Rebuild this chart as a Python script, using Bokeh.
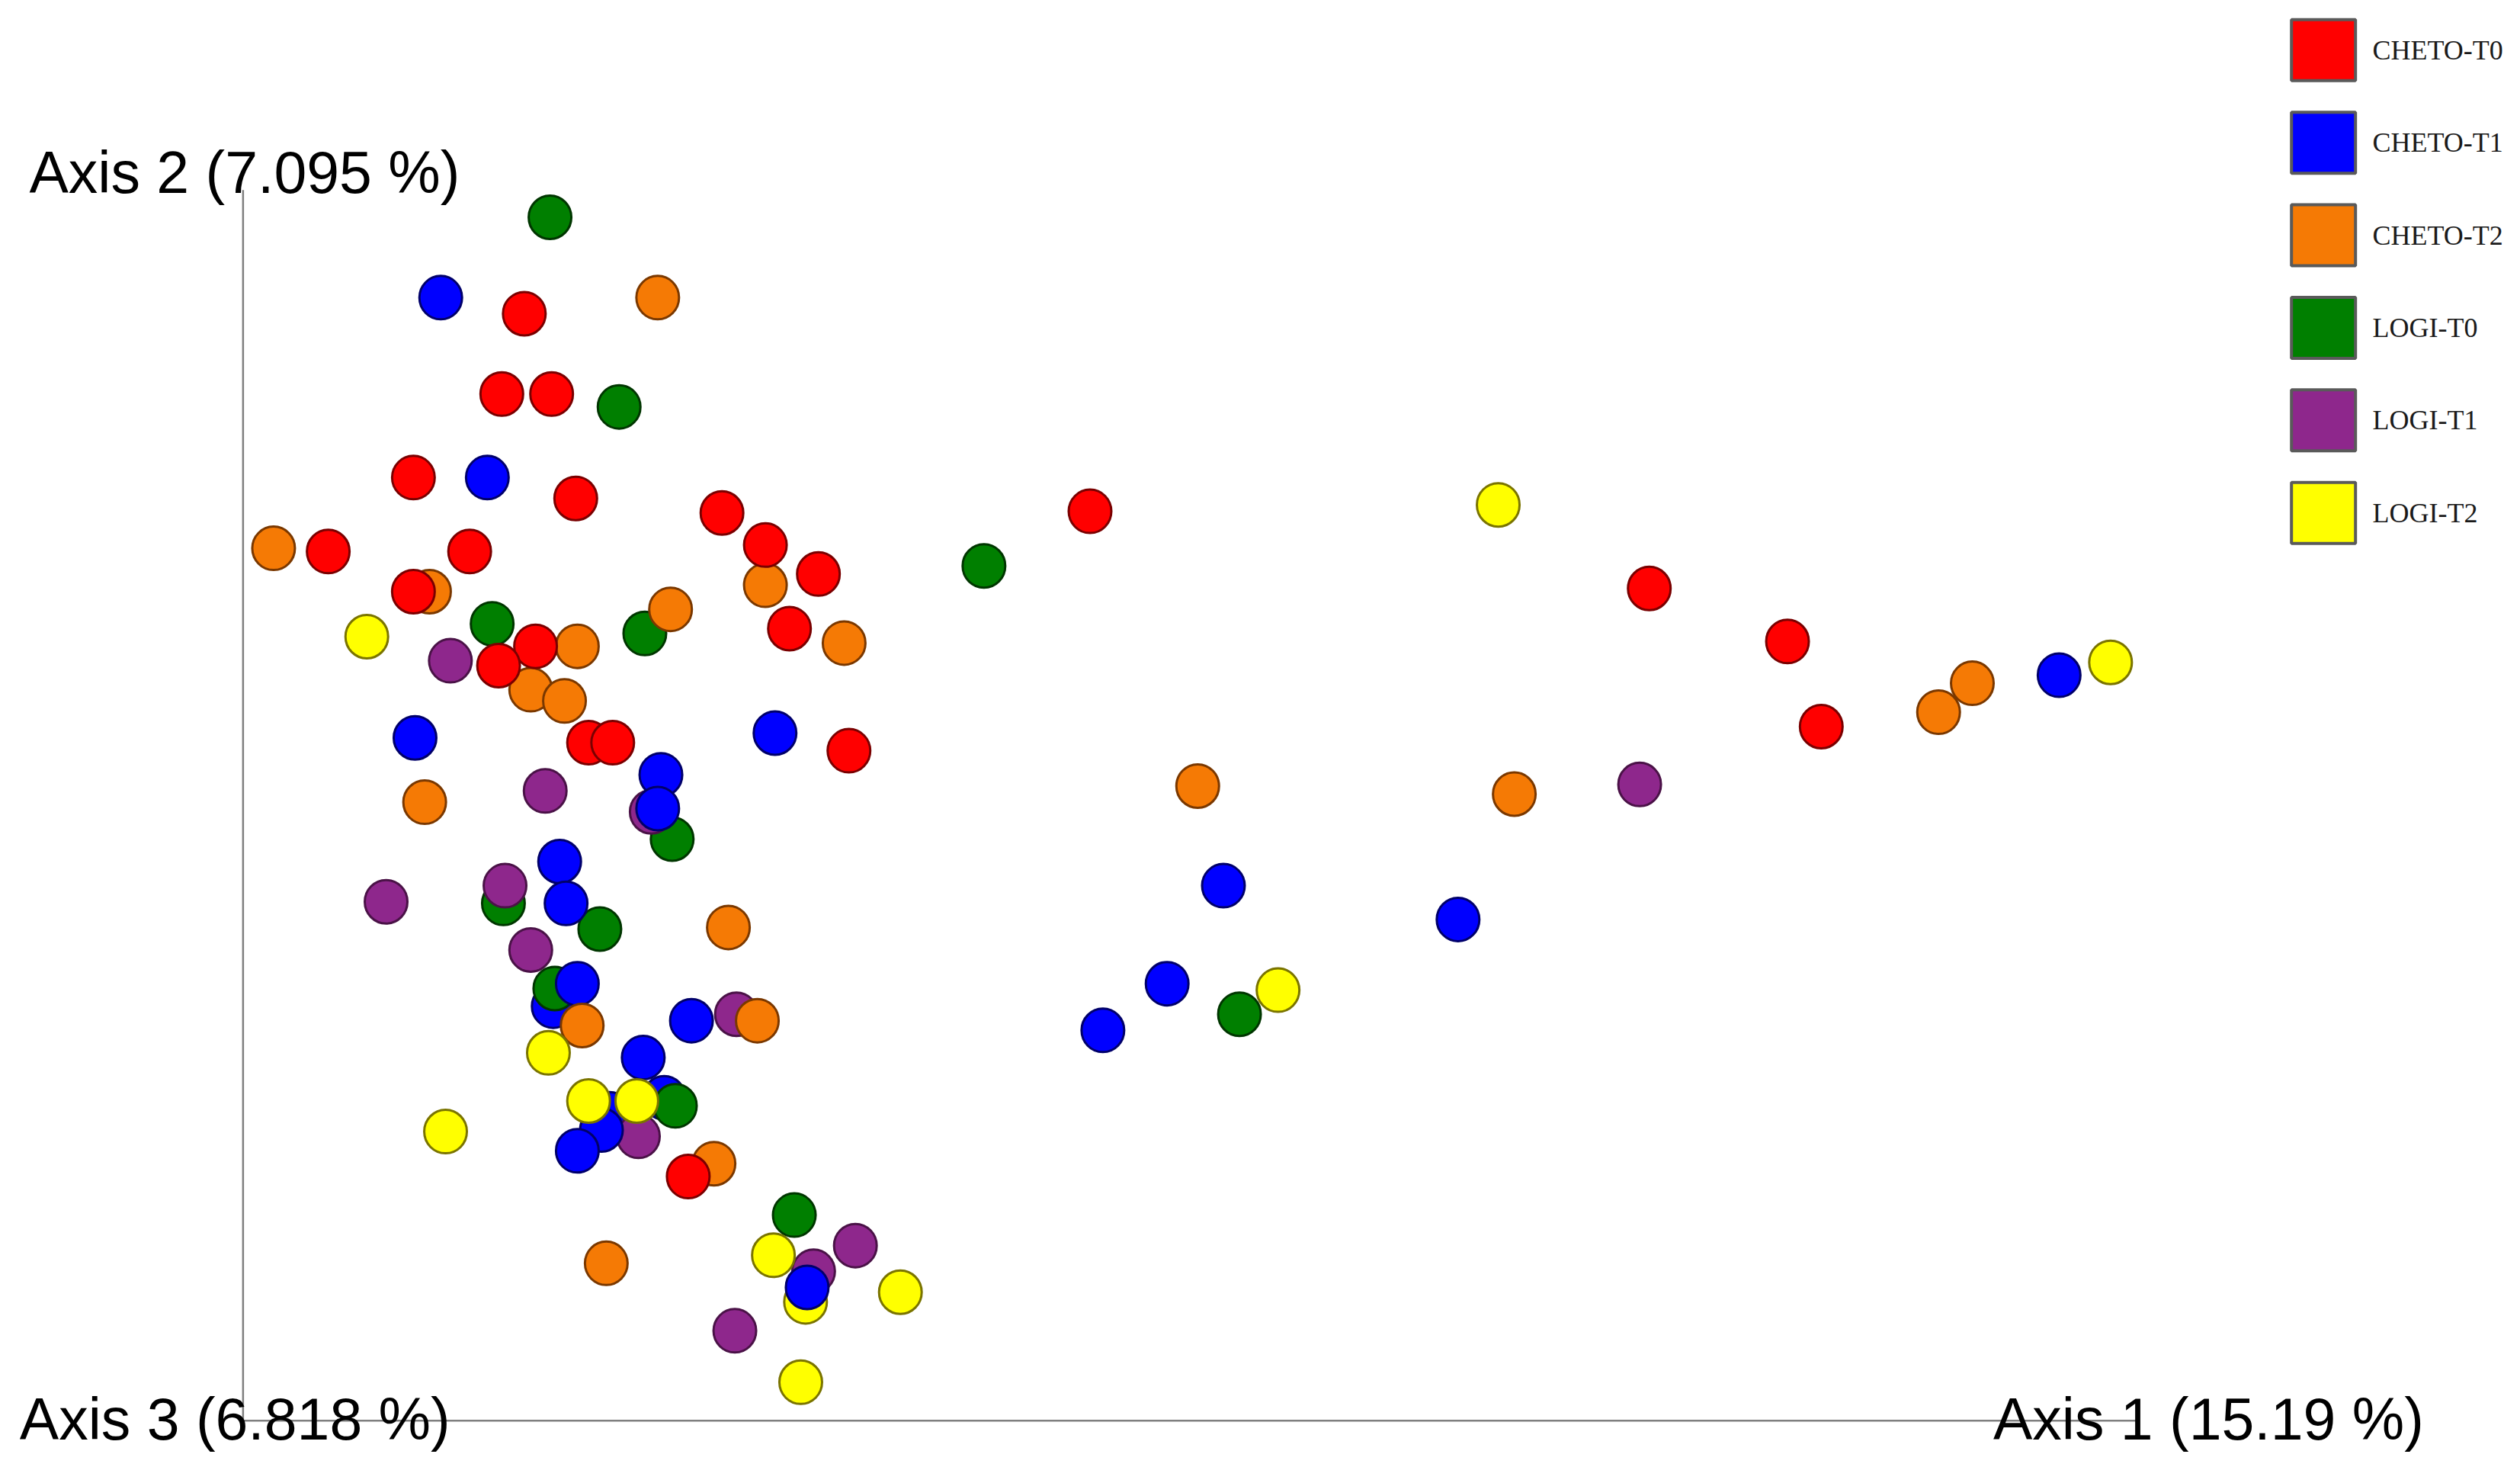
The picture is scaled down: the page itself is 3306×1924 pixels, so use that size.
from bokeh.plotting import figure
from bokeh.models import Range1d, ColumnDataSource
from bokeh.core.properties import value
from bokeh.embed import file_html
from bokeh.resources import INLINE

# ---- data (positions on the PCoA plane, arbitrary units) ----
groups = ["CHETO-T0", "CHETO-T1", "CHETO-T2", "LOGI-T0", "LOGI-T1", "LOGI-T2"]
fills = ["#ff0000", "#0000ff", "#f57a05", "#007f00", "#8e278c", "#ffff00"]
edges = ["#7a0000", "#00006a", "#7a3800", "#003600", "#4a1247", "#7a7400"]

cheto_t0_x = [326, 312, 343, 257, 358, 204, 292, 257, 449, 476, 509, 491, 333, 310, 366, 381, 528, 678, 1026, 1112, 1133, 428]
cheto_t0_y = [718, 668, 668, 616, 603, 570, 570, 545, 594, 574, 556, 522, 511, 499, 451, 451, 446, 595, 547, 514, 461, 181]

cheto_t1_x = [274, 303, 258, 482, 411, 409, 348, 352, 359, 344, 430, 400, 379, 413, 374, 359, 502, 686, 726, 761, 907, 1281]
cheto_t1_y = [728, 616, 454, 457, 431, 410, 377, 351, 301, 287, 278, 255, 220, 230, 210, 197, 112, 272, 301, 362, 341, 493]

cheto_t2_x = [409, 170, 267, 476, 417, 359, 330, 351, 525, 264, 453, 471, 362, 444, 377, 745, 942, 1206, 1227]
cheto_t2_y = [728, 572, 545, 549, 534, 511, 484, 477, 513, 414, 336, 278, 275, 189, 127, 424, 419, 470, 488]

logi_t0_x = [342, 385, 306, 401, 612, 418, 313, 373, 345, 420, 494, 771]
logi_t0_y = [778, 660, 525, 519, 561, 391, 351, 335, 298, 225, 157, 282]

logi_t1_x = [280, 339, 405, 240, 314, 330, 458, 397, 532, 506, 457, 1020]
logi_t1_y = [502, 421, 408, 352, 362, 322, 282, 206, 138, 122, 85, 425]

logi_t2_x = [228, 341, 366, 396, 277, 481, 501, 560, 498, 795, 932, 1313]
logi_t2_y = [517, 258, 228, 228, 209, 132, 103, 109, 53, 297, 599, 501]

axis_labels = ["Axis 1 (15.19 %)", "Axis 2 (7.095 %)", "Axis 3 (6.818 %)"]

series_x = [cheto_t0_x, cheto_t1_x, cheto_t2_x, logi_t0_x, logi_t1_x, logi_t2_x]
series_y = [cheto_t0_y, cheto_t1_y, cheto_t2_y, logi_t0_y, logi_t1_y, logi_t2_y]

# drawing depth (3D view): group order, with a few samples lying behind others
draw_rank = {"LOGI-T0": 0, "LOGI-T1": 1, "CHETO-T1": 2, "CHETO-T2": 3, "LOGI-T2": 4, "CHETO-T0": 5}
behind = {("CHETO-T1", 9), ("CHETO-T1", 12), ("CHETO-T1", 13), ("LOGI-T2", 6)}

pts = []
for g, fc, ec, xs, ys in zip(groups, fills, edges, series_x, series_y):
    for i, (xv, yv) in enumerate(zip(xs, ys)):
        r = -1 if (g, i) in behind else draw_rank[g]
        pts.append((r, xv, yv, fc, ec))
pts.sort(key=lambda t: t[0])
src = ColumnDataSource(dict(x=[t[1] for t in pts], y=[t[2] for t in pts],
                            fc=[t[3] for t in pts], ec=[t[4] for t in pts]))

W, H = 3290, 1908
p = figure(width=W, height=H, output_backend="svg", toolbar_location=None,
           x_range=Range1d(0, W / 2.1084), y_range=Range1d(913 - H / 2.1073, 913),
           min_border=0, outline_line_color=None)
p.axis.visible = False
p.grid.visible = False
p.background_fill_color = "white"
p.border_fill_color = "white"

# axis frame lines (origin corner of the 3D view)
ox, oy, top, right = 151, 29, 795, 1330
p.segment(x0=[ox, ox], y0=[oy, oy], x1=[ox, right], y1=[top, oy],
          line_color="#7f7f7f", line_width=2.5)

p.ellipse(x="x", y="y", width=56, height=57, width_units="screen", height_units="screen",
          fill_color="fc", line_color="ec", line_width=3, source=src)

# axis labels
p.text(x=[1240, 18, 12], y=[30, 806, 30], text=axis_labels,
       text_font=value("Liberation Sans"), text_font_size="77px",
       text_color="#000000", text_align="left", text_baseline="middle")

# legend
leg_y = [913 - (31 + i * 57.6) for i in range(len(groups))]
p.rect(x=[1445.5] * len(groups), y=leg_y, width=84, height=80,
       width_units="screen", height_units="screen",
       fill_color=fills, line_color="#5a5a5a", line_width=4)
p.text(x=[1476] * len(groups), y=leg_y, text=groups,
       text_font=value("Liberation Serif"), text_font_size="36px",
       text_color="#1a1a1a", text_align="left", text_baseline="middle")

open("out.html", "w").write(file_html(p, INLINE))
